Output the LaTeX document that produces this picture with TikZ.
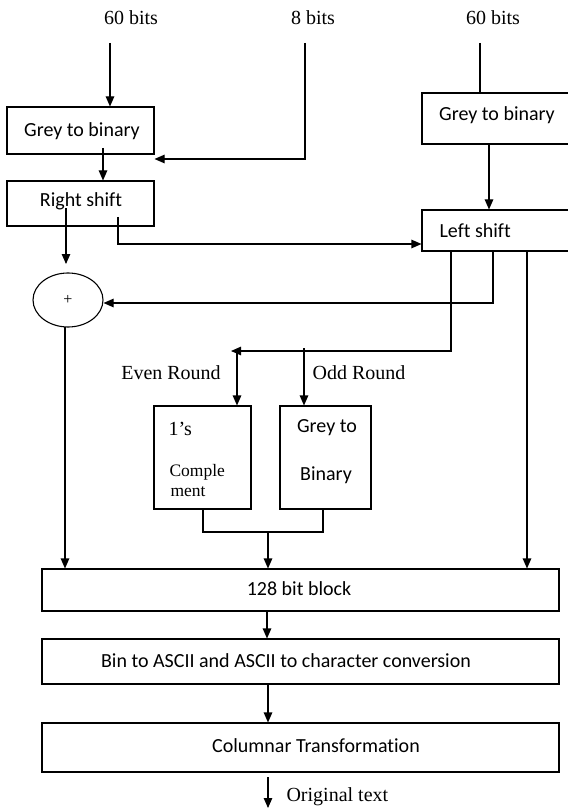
\documentclass[tikz,border=0pt]{standalone}
\usepackage{fontspec}
\setmainfont{Liberation Serif}
\newfontfamily\carlfont[Ligatures=NoCommon]{Carlito}
\usetikzlibrary{arrows.meta,shapes.geometric}
\begin{document}
\begin{tikzpicture}[x=1pt,y=-1pt,
  line width=1.1pt,
  arr/.style={-{Triangle[length=10pt,width=8.5pt]}},
  box/.style={draw, inner sep=0pt},
  sans/.style={inner sep=0pt, font=\carlfont\fontsize{20}{24}\selectfont},
  serif/.style={inner sep=0pt, font=\fontsize{20}{24}\selectfont},
  small/.style={inner sep=0pt, font=\fontsize{17.5}{20}\selectfont}]
\useasboundingbox (0,0) rectangle (567,810);
% boxes
\node[box, minimum width=147pt, minimum height=47pt] (gbL) at (80.5,130.5) {};
\node[box, minimum width=147pt, minimum height=45pt] (rs) at (80.5,203.5) {};
\node[box, minimum width=150pt, minimum height=51pt] (gbR) at (497,118.5) {};
\node[box, minimum width=150pt, minimum height=41pt] (ls) at (497,230.5) {};
\node[draw, ellipse, inner sep=0pt, minimum width=70pt, minimum height=54pt] (ell) at (68,300) {};
\node[box, minimum width=97pt, minimum height=103pt] (ones) at (202.5,457.5) {};
\node[box, minimum width=91pt, minimum height=103pt] (g2b) at (325.5,457.5) {};
\node[box, minimum width=517pt, minimum height=42pt] (blk) at (300.5,590) {};
\node[box, minimum width=517pt, minimum height=45pt] (bin) at (300.5,661.5) {};
\node[box, minimum width=517pt, minimum height=49pt] (col) at (300.5,747.5) {};
% texts
\node[serif] (t60a) at (131,18) {60 bits};
\node[serif] (t8) at (313,18) {8 bits};
\node[serif] (t60b) at (493,18) {60 bits};
\node[sans] (tgbL) at (82,131) {Grey to binary};
\node[sans] (trs) at (81,201) {Right shift};
\node[sans] (tgbR) at (497,115) {Grey to binary};
\node[sans, anchor=west] (tls) at (439,231) {Left shift};
\node[inner sep=0pt, font=\fontsize{16}{18}\selectfont] (tplus) at (68,300) {+};
\node[serif] (teven) at (171,373) {Even Round};
\node[serif] (todd) at (359,373) {Odd Round};
\node[serif, anchor=west] (tones) at (168,429) {1’s};
\node[small, anchor=west] (tcomp) at (169,472) {Comple};
\node[small, anchor=west] (tment) at (170,492) {ment};
\node[sans] (tgrey) at (327,428) {Grey to};
\node[sans] (tbinary) at (326,475) {Binary};
\node[sans] (tblk) at (299,589) {128 bit block};
\node[sans] (tbin) at (286,661) {Bin to ASCII and ASCII to character conversion};
\node[sans] (tcol) at (316,746) {Columnar Transformation};
\node[serif, anchor=west] (torig) at (286,797) {Original text};
% free ends
\coordinate (a1) at (110,43);
\coordinate (a2) at (305,43);
\coordinate (a2b) at (305,159);
\coordinate (a3) at (480,43);
\coordinate (gbLo) at (103,148);
\coordinate (rsA) at (66,208);
\coordinate (rsAe) at (66,264);
\coordinate (rsB) at (118,217);
\coordinate (rsBm) at (118,244);
\coordinate (lsA) at (451,251);
\coordinate (lsAm) at (451,351);
\coordinate (split) at (231,351);
\coordinate (evenS) at (237,351);
\coordinate (oddS) at (304,348);
\coordinate (lsB) at (493,251);
\coordinate (lsBm) at (493,303);
\coordinate (lsC) at (527,251);
\coordinate (onesB) at (203,509);
\coordinate (merge) at (268,532);
\coordinate (g2bB) at (323,509);
\coordinate (ellB) at (65,327);
\coordinate (origS) at (268,777);
\coordinate (origE) at (268,808);
% connectors
\draw[arr] (a1) -- (a1 |- gbL.north);
\draw[arr] (a2) -- (a2b) -- (a2b -| gbL.east);
\draw (a3) -- (a3 |- gbR.north);
\draw[arr] (gbLo) -- (gbLo |- rs.north);
\draw[arr] (rsA) -- (rsAe);
\draw[arr] (rsB) -- (rsBm) -- (rsBm -| ls.west);
\draw[arr] (gbR.south -| 489,0) -- (ls.north -| 489,0);
\draw[arr] (lsB) -- (lsBm) -- (lsBm -| ell.east);
\draw[arr] (lsA) -- (lsAm) -- (split);
\draw[arr] (evenS) -- (evenS |- ones.north);
\draw[arr] (oddS) -- (oddS |- g2b.north);
\draw[arr] (lsC) -- (lsC |- blk.north);
\draw (onesB) -- (onesB |- merge) -- (merge -| g2bB) -- (g2bB);
\draw[arr] (merge) -- (merge |- blk.north);
\draw[arr] (ellB) -- (ellB |- blk.north);
\draw[arr] (blk.south -| 267,0) -- (bin.north -| 267,0);
\draw[arr] (bin.south -| 268,0) -- (col.north -| 268,0);
\draw[arr] (origS) -- (origE);
\end{tikzpicture}
\end{document}
